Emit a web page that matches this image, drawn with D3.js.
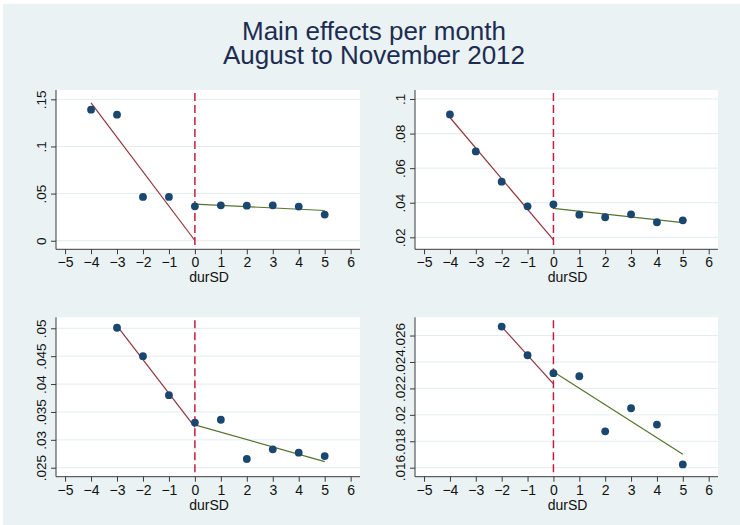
<!doctype html>
<html lang="en">
<head>
  <meta charset="utf-8">
  <title>Main effects per month</title>
  <script src="https://cdn.jsdelivr.net/npm/d3@7"></script>
  <style>
    body { margin: 0; background: #ffffff; }
    text { font-family: "Liberation Sans", Arial, sans-serif; }
  </style>
</head>
<body>
<script>
  // durSD values (x), same for every month; null = no observation
  const durSD = [-4, -3, -2, -1, 0, 1, 2, 3, 4, 5];
  const month1 = [0.139, 0.1337, 0.0465, 0.0465, 0.0365, 0.0376, 0.0372, 0.0376, 0.0362, 0.0277];
  const month2 = [0.0911, 0.0697, 0.0522, 0.0379, 0.0391, 0.0331, 0.0316, 0.0333, 0.0287, 0.0298];
  const month3 = [null, 0.0501, 0.0450, 0.0380, 0.0331, 0.0336, 0.02656, 0.02829, 0.02769, 0.02709];
  const month4 = [null, null, 0.02668, 0.02451, 0.02315, 0.02292, 0.01875, 0.0205, 0.01926, 0.01625];

  const xTicks = [-5, -4, -3, -2, -1, 0, 1, 2, 3, 4, 5, 6];
  const xRange = [-5.35, 6.36];

  const yTicks1 = [0, 0.05, 0.1, 0.15];
  const yLabels1 = ["0", ".05", ".1", ".15"];
  const yTicks2 = [0.02, 0.04, 0.06, 0.08, 0.1];
  const yLabels2 = [".02", ".04", ".06", ".08", ".1"];
  const yTicks3 = [0.025, 0.03, 0.035, 0.04, 0.045, 0.05];
  const yLabels3 = [".025", ".03", ".035", ".04", ".045", ".05"];
  const yTicks4 = [0.016, 0.018, 0.02, 0.022, 0.024, 0.026];
  const yLabels4 = [".016", ".018", ".02", ".022", ".024", ".026"];

  const yRange1 = [-0.0091, 0.1599];
  const yRange2 = [0.01306, 0.1052];
  const yRange3 = [0.02339, 0.05197];
  const yRange4 = [0.01532, 0.02738];

  const titleLines = ["Main effects per month", "August to November 2012"];
  const xTitle = "durSD";

  const W = 740, H = 525;
  const svg = d3.select("body").append("svg")
    .attr("width", W).attr("height", H);

  svg.append("rect").attr("x", 3).attr("y", 4)
    .attr("width", W - 3).attr("height", H - 4)
    .attr("fill", "#eaf2f3");

  svg.selectAll("text.title").data(titleLines).enter()
    .append("text").attr("class", "title")
    .attr("x", 374).attr("y", (d, i) => 39.5 + i * 24)
    .attr("text-anchor", "middle")
    .attr("font-size", 26)
    .attr("fill", "#1c2c52")
    .text(d => d);

  const boxes = [
    { x0: 56, x1: 360, y0: 90, y1: 249.3 },
    { x0: 415, x1: 718, y0: 90, y1: 249.3 },
    { x0: 56, x1: 360, y0: 317.3, y1: 476.7 },
    { x0: 415, x1: 718, y0: 317.3, y1: 476.7 }
  ];
  const panels = [
    { vals: month1, ticks: yTicks1, labels: yLabels1, range: yRange1 },
    { vals: month2, ticks: yTicks2, labels: yLabels2, range: yRange2 },
    { vals: month3, ticks: yTicks3, labels: yLabels3, range: yRange3 },
    { vals: month4, ticks: yTicks4, labels: yLabels4, range: yRange4 }
  ];

  // least squares line over a subset of points
  function fit(pts) {
    const mx = d3.mean(pts, p => p.x), my = d3.mean(pts, p => p.y);
    const sxy = d3.sum(pts, p => (p.x - mx) * (p.y - my));
    const sxx = d3.sum(pts, p => (p.x - mx) * (p.x - mx));
    const b = sxy / sxx;
    return x => my + b * (x - mx);
  }

  panels.forEach((p, i) => {
    const box = boxes[i];
    const g = svg.append("g");
    const x = d3.scaleLinear().domain(xRange).range([box.x0, box.x1]);
    const y = d3.scaleLinear().domain(p.range).range([box.y1, box.y0]);

    const pts = durSD.map((d, k) => ({ x: d, y: p.vals[k] })).filter(d => d.y != null);

    g.append("rect").attr("x", box.x0).attr("y", box.y0)
      .attr("width", box.x1 - box.x0).attr("height", box.y1 - box.y0)
      .attr("fill", "#ffffff");

    // grid
    g.selectAll("line.grid").data(p.ticks).enter().append("line")
      .attr("x1", box.x0).attr("x2", box.x1)
      .attr("y1", d => y(d)).attr("y2", d => y(d))
      .attr("stroke", "#e4eced").attr("stroke-width", 1);

    // y axis
    const yAxis = d3.axisLeft(y).tickValues(p.ticks)
      .tickFormat((d, k) => p.labels[k]).tickSize(5).tickPadding(5);
    const ya = g.append("g").attr("transform", `translate(${box.x0},0)`).call(yAxis);
    ya.select(".domain").attr("d", `M0,${box.y0}V${box.y1}`);
    ya.selectAll("line, path").attr("stroke", "#3a3a3a");
    ya.selectAll("text")
      .attr("font-size", 13.5).attr("fill", "#111")
      .attr("font-family", "Liberation Sans, Arial, sans-serif")
      .attr("text-anchor", "middle")
      .attr("dy", 0)
      .attr("x", 0).attr("y", 0)
      .attr("transform", "translate(-10.5,0) rotate(-90)");

    // x axis
    const xAxis = d3.axisBottom(x).tickValues(xTicks)
      .tickFormat(d => d < 0 ? "\u2212" + Math.abs(d) : String(d)).tickSize(5).tickPadding(4);
    const xa = g.append("g").attr("transform", `translate(0,${box.y1})`).call(xAxis);
    xa.select(".domain").attr("d", `M${box.x0},0H${box.x1}`);
    xa.selectAll("line, path").attr("stroke", "#3a3a3a");
    xa.selectAll("text")
      .attr("font-size", 14).attr("fill", "#111")
      .attr("font-family", "Liberation Sans, Arial, sans-serif")
      .attr("dy", 0).attr("y", 18);

    g.append("text")
      .attr("x", (box.x0 + box.x1) / 2 + 1).attr("y", box.y1 + 33)
      .attr("text-anchor", "middle").attr("font-size", 14).attr("fill", "#111")
      .text(xTitle);

    // fitted lines, left of 0 and from 0 on
    const left = pts.filter(d => d.x < 0), right = pts.filter(d => d.x >= 0);
    const fl = fit(left), fr = fit(right);
    const lx = [d3.min(left, d => d.x), 0];
    const rx = [0, d3.max(right, d => d.x)];
    g.append("path")
      .attr("d", d3.line().x(d => x(d)).y(d => y(fl(d)))(lx))
      .attr("fill", "none").attr("stroke", "#90353b").attr("stroke-width", 1.2);
    g.append("path")
      .attr("d", d3.line().x(d => x(d)).y(d => y(fr(d)))(rx))
      .attr("fill", "none").attr("stroke", "#55752f").attr("stroke-width", 1.2);

    // reference line at 0
    g.append("line")
      .attr("x1", x(0)).attr("x2", x(0))
      .attr("y1", box.y0 + 3).attr("y2", box.y1)
      .attr("stroke", "#c41f3f").attr("stroke-width", 1.5)
      .attr("stroke-dasharray", "8,4");

    // points
    g.selectAll("circle").data(pts).enter().append("circle")
      .attr("cx", d => x(d.x)).attr("cy", d => y(d.y))
      .attr("r", 3.9).attr("fill", "#1a476f");
  });
</script>
</body>
</html>
